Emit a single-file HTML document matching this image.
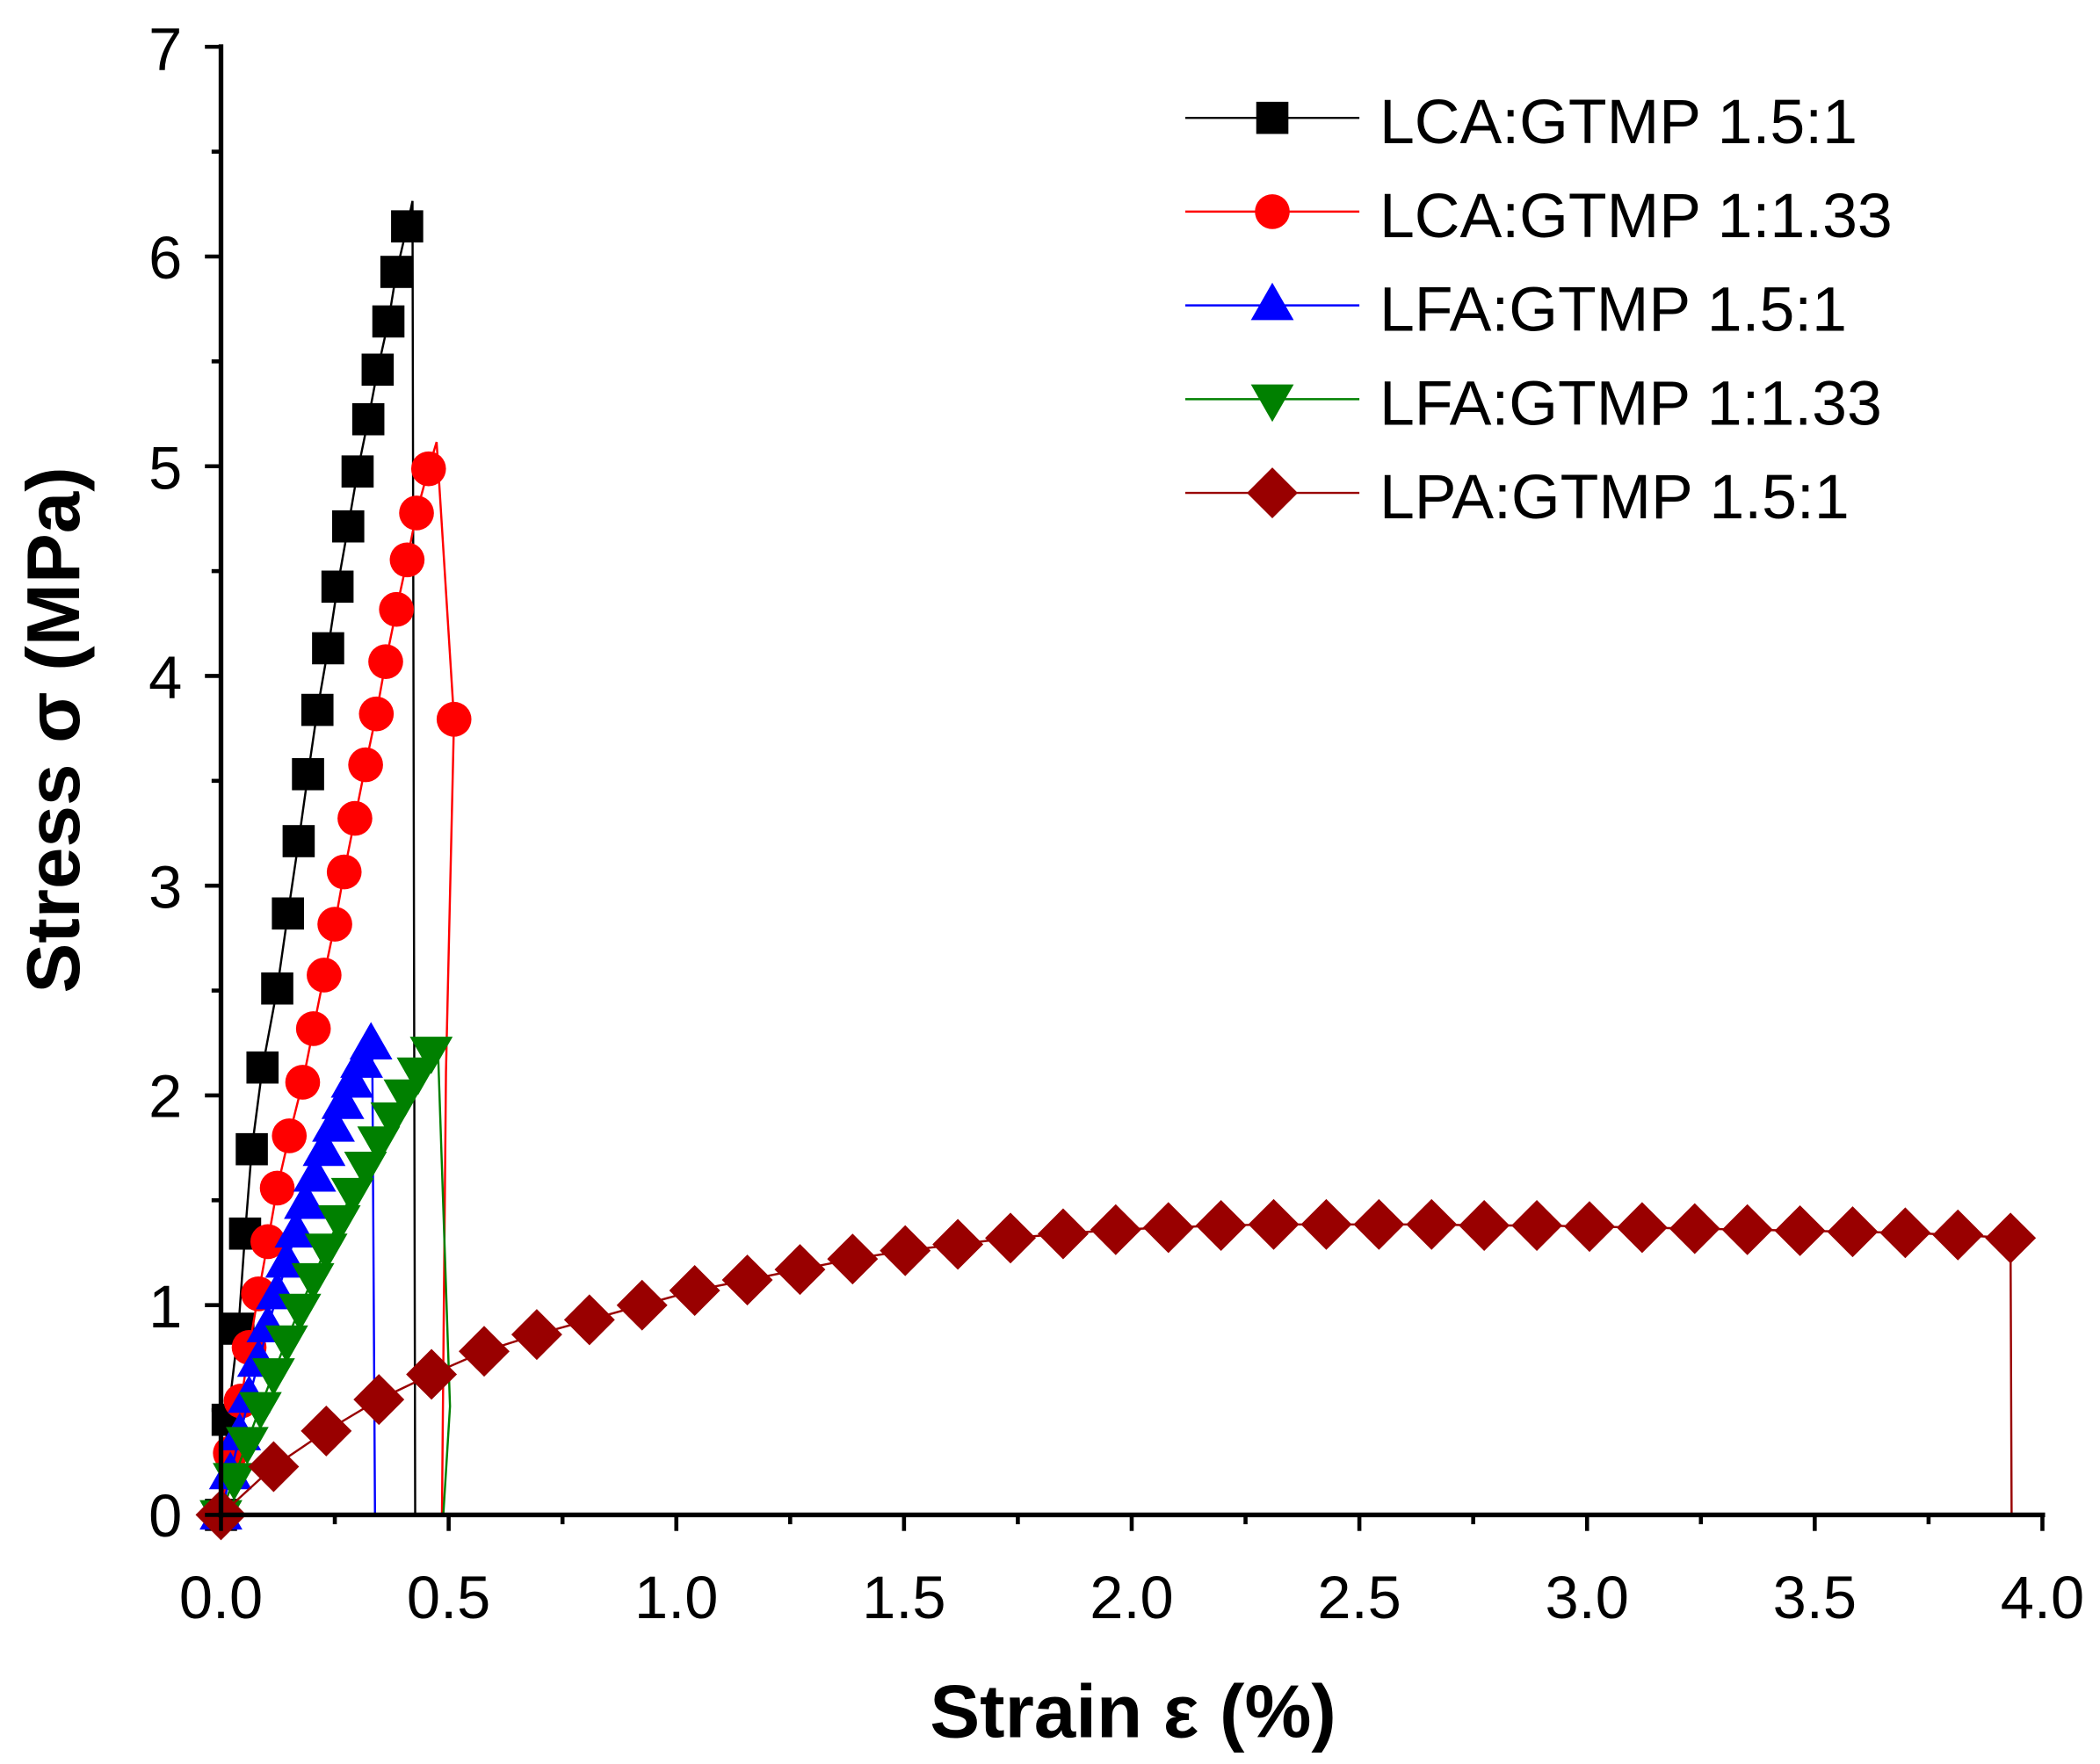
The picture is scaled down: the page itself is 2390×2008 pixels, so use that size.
<!DOCTYPE html>
<html><head><meta charset="utf-8"><style>
html,body{margin:0;padding:0;background:#fff}
svg{display:block}
text{font-family:"Liberation Sans",Arial,sans-serif}
</style></head><body>
<svg id="s" width="2390" height="2008" viewBox="0 0 1568 1317" preserveAspectRatio="none" xmlns="http://www.w3.org/2000/svg">
<rect width="1568" height="1317" fill="#fff"/>
<g id="plot"></g>
<g stroke="#000" stroke-width="3.5" fill="none">
<line x1="165" y1="33" x2="165" y2="1133"/>
<line x1="163" y1="1131" x2="1527" y2="1131"/>
</g>
<g id="ticks" stroke="#000" stroke-width="3"></g>
<g font-size="45" fill="#000" text-anchor="middle">
<text x="165" y="1208">0.0</text><text x="335" y="1208">0.5</text><text x="505" y="1208">1.0</text>
<text x="675" y="1208">1.5</text><text x="845" y="1208">2.0</text><text x="1015" y="1208">2.5</text>
<text x="1185" y="1208">3.0</text><text x="1355" y="1208">3.5</text><text x="1525" y="1208">4.0</text>
</g>
<g font-size="45" fill="#000" text-anchor="end">
<text x="136" y="1147">0</text><text x="136" y="991">1</text><text x="136" y="834">2</text>
<text x="136" y="678">3</text><text x="136" y="521">4</text><text x="136" y="365">5</text>
<text x="136" y="208">6</text><text x="136" y="52">7</text>
</g>
<text x="846" y="1297" font-size="56" font-weight="bold" text-anchor="middle">Strain ε (%)</text>
<text transform="translate(59,545) rotate(-90)" font-size="56" font-weight="bold" text-anchor="middle">Stress σ (MPa)</text>
<g id="legend"></g>
<g font-size="47" fill="#000">
<text x="1030" y="107">LCA:GTMP 1.5:1</text>
<text x="1030" y="177">LCA:GTMP 1:1.33</text>
<text x="1030" y="247">LFA:GTMP 1.5:1</text>
<text x="1030" y="317">LFA:GTMP 1:1.33</text>
<text x="1030" y="387">LPA:GTMP 1.5:1</text>
</g>
</svg>
<script>
var NS="http://www.w3.org/2000/svg";
function el(p,t,a){var e=document.createElementNS(NS,t);for(var k in a)e.setAttribute(k,a[k]);p.appendChild(e);return e;}
var plot=document.getElementById('plot'),tk=document.getElementById('ticks'),lg=document.getElementById('legend');
for(var i=0;i<=16;i++){var x=165+i*85;var L=(i%2==0)?12:7;el(tk,'line',{x1:x,y1:1131,x2:x,y2:1131+L});}
for(var i=0;i<=14;i++){var y=1131-i*78.29;var L=(i%2==0)?12:7;el(tk,'line',{x1:165,y1:y,x2:165-L,y2:y});}
function mk(g,type,x,y,c){
 if(type=='s')el(g,'rect',{x:x-12,y:y-12,width:24,height:24,fill:c});
 else if(type=='c')el(g,'circle',{cx:x,cy:y,r:13,fill:c});
 else if(type=='u')el(g,'polygon',{points:(x)+','+(y-17)+' '+(x-16)+','+(y+11)+' '+(x+16)+','+(y+11),fill:c});
 else if(type=='d')el(g,'polygon',{points:(x)+','+(y+17)+' '+(x-16)+','+(y-11)+' '+(x+16)+','+(y-11),fill:c});
 else if(type=='r')el(g,'polygon',{points:(x)+','+(y-19)+' '+(x+19)+','+y+' '+(x)+','+(y+19)+' '+(x-19)+','+y,fill:c});
}
function series(pts,line,type,c){
 var g=el(plot,'g',{});
 el(g,'polyline',{points:line.map(function(p){return p.join(',')}).join(' '),fill:'none',stroke:c,'stroke-width':1.6});
 pts.forEach(function(p){mk(g,type,p[0],p[1],c);});
}
var bk=[[165,1131],[170,1060],[178,992],[183,921],[188,858],[196,797],[207,738],[215,682],[223,628],[230,578],[237,530],[245,484],[252,438],[260,393],[267,352],[275,313],[282,276],[290,240],[296,203],[304,169]];
series(bk,bk.concat([[308,150],[310,1131]]),'s','#000');
var rd=[[165,1131],[172,1085],[180,1046],[186,1006],[193,966],[200,927],[207,887],[216,848],[226,808],[234,768],[242,728],[250,690],[257,651],[265,611],[273,571],[281,533],[288,494],[296,455],[304,418],[311,383],[320,350]];
series(rd.concat([[339,537]]),rd.concat([[326,330],[339,537],[333,800],[330,1131]]),'c','#ff0000');
var bl=[];for(var i=0;i<=16;i++){var t=i/16;bl.push([165+112*t,1131-351*(0.6*t+0.4*(1-(1-t)*(1-t)))]);}
series(bl,bl.concat([[278,790],[280,1131]]),'u','#0000ff');
var gr=[];for(var i=0;i<=16;i++){var t=i/16;gr.push([165+157*t,1131-346*(0.7*t+0.3*(1-(1-t)*(1-t)))]);}
series(gr,gr.concat([[327,783],[336,1050],[331,1131]]),'d','#008000');
var sv=[0,0.23,0.4,0.55,0.67,0.78,0.86,0.93,1.0,1.07,1.12,1.17,1.22,1.26,1.29,1.32,1.34,1.36,1.37,1.38,1.385,1.385,1.385,1.385,1.38,1.38,1.375,1.37,1.365,1.36,1.355,1.35,1.345,1.335,1.32];
var dr=sv.map(function(v,i){return [165+39.3*i,1131-156.57*v];});
series(dr,dr.concat([[1502,1131]]),'r','#990000');
var lt=['s','c','u','d','r'],lc=['#000','#ff0000','#0000ff','#008000','#990000'];
for(var i=0;i<5;i++){var y=88+70*i;el(lg,'line',{x1:885,y1:y,x2:1015,y2:y,stroke:lc[i],'stroke-width':1.6});mk(lg,lt[i],950,y,lc[i]);}
</script>
</body></html>
